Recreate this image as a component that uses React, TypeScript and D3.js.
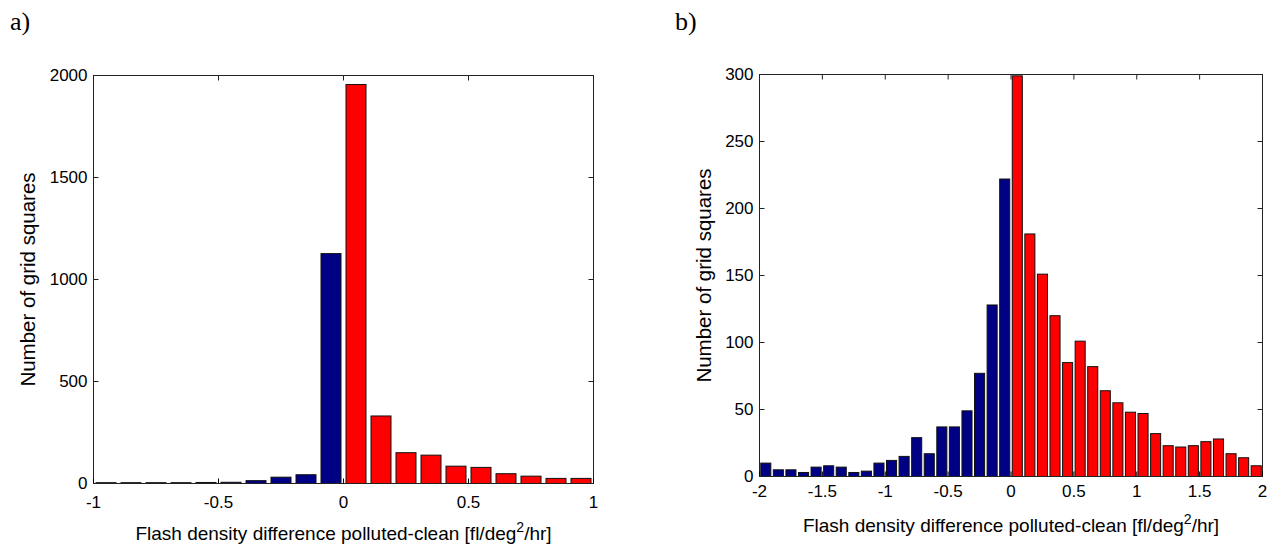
import * as d3 from "d3";

// panel a: bins of 0.1 from -1 to 1
const binsA = d3.range(-0.95, 1, 0.1);
const countsA = [4, 4, 4, 4, 5, 6, 14, 31, 43, 1127, 1956, 331, 151, 139, 85, 79, 48, 36, 25, 25];
const xTicksA = [-1, -0.5, 0, 0.5, 1];
const yTicksA = [0, 500, 1000, 1500, 2000];

// panel b: bins of 0.1 from -2 to 2
const binsB = d3.range(-1.95, 2, 0.1);
const countsB = [
  10, 5, 5, 3, 7, 8, 7, 3, 4, 10, 12, 15, 29, 17, 37, 37, 49, 77, 128, 222,
  299, 181, 151, 120, 85, 101, 82, 64, 55, 48, 47, 32, 23, 22, 23, 26, 28, 17, 14, 8,
];
const xTicksB = [-2, -1.5, -1, -0.5, 0, 0.5, 1, 1.5, 2];
const yTicksB = [0, 50, 100, 150, 200, 250, 300];

const BLUE = "#000084";
const RED = "#ff0000";
const FONT = "Liberation Sans, Arial, sans-serif";

const Panel = ({ letter, letterX, box, bins, counts, xDomain, yMax, xTicks, yTicks, binWidth, xTickDy, xLabelY, yLabelX }) => {
  const x = d3.scaleLinear().domain(xDomain).range([box.left, box.right]);
  const y = d3.scaleLinear().domain([0, yMax]).range([box.bottom, box.top]);
  const barW = (x(binWidth) - x(0)) * 0.8;
  const tick = 5;

  return (
    <g>
      <text x={letterX} y={30} fontFamily="Liberation Serif, Times New Roman, serif" fontSize={26}>
        {letter}
      </text>
      {bins.map((b, i) => (
        <rect
          key={i}
          x={x(b) - barW / 2}
          y={y(counts[i])}
          width={barW}
          height={y(0) - y(counts[i])}
          fill={b < 0 ? BLUE : RED}
          stroke="#111"
          strokeWidth={1}
        />
      ))}
      <rect
        x={box.left}
        y={box.top}
        width={box.right - box.left}
        height={box.bottom - box.top}
        fill="none"
        stroke="#222"
        strokeWidth={1}
      />
      {xTicks.map((t) => (
        <g key={t}>
          <line x1={x(t)} x2={x(t)} y1={box.bottom} y2={box.bottom - tick} stroke="#000" />
          <line x1={x(t)} x2={x(t)} y1={box.top} y2={box.top + tick} stroke="#222" />
          <text x={x(t)} y={box.bottom + xTickDy} textAnchor="middle" fontFamily={FONT} fontSize={17}>
            {t}
          </text>
        </g>
      ))}
      {yTicks.map((t) => (
        <g key={t}>
          <line x1={box.left} x2={box.left + tick} y1={y(t)} y2={y(t)} stroke="#222" />
          <line x1={box.right} x2={box.right - tick} y1={y(t)} y2={y(t)} stroke="#222" />
          <text x={box.left - 6} y={y(t)} dy="0.35em" textAnchor="end" fontFamily={FONT} fontSize={17}>
            {t}
          </text>
        </g>
      ))}
      <text
        x={(box.left + box.right) / 2}
        y={xLabelY}
        textAnchor="middle"
        fontFamily={FONT}
        fontSize={19}
      >
        Flash density difference polluted-clean [fl/deg
        <tspan dy={-8} fontSize={14}>2</tspan>
        <tspan dy={8}>/hr]</tspan>
      </text>
      <text
        transform={`translate(${yLabelX},${(box.top + box.bottom) / 2}) rotate(-90)`}
        textAnchor="middle"
        fontFamily={FONT}
        fontSize={20.5}
      >
        Number of grid squares
      </text>
    </g>
  );
};

export default function App() {
  return (
    <svg width={1273} height={550} style={{ position: "absolute", left: 0, top: 0, background: "white" }}>
      <Panel
        letter="a)"
        letterX={10}
        box={{ left: 93.5, right: 593.5, top: 75.5, bottom: 483.5 }}
        bins={binsA}
        counts={countsA}
        xDomain={[-1, 1]}
        yMax={2000}
        xTicks={xTicksA}
        yTicks={yTicksA}
        binWidth={0.1}
        xTickDy={24}
        xLabelY={540}
        yLabelX={35}
      />
      <Panel
        letter="b)"
        letterX={675}
        box={{ left: 759.5, right: 1262.5, top: 74.5, bottom: 476.5 }}
        bins={binsB}
        counts={countsB}
        xDomain={[-2, 2]}
        yMax={300}
        xTicks={xTicksB}
        yTicks={yTicksB}
        binWidth={0.1}
        xTickDy={20}
        xLabelY={532}
        yLabelX={711}
      />
    </svg>
  );
}
